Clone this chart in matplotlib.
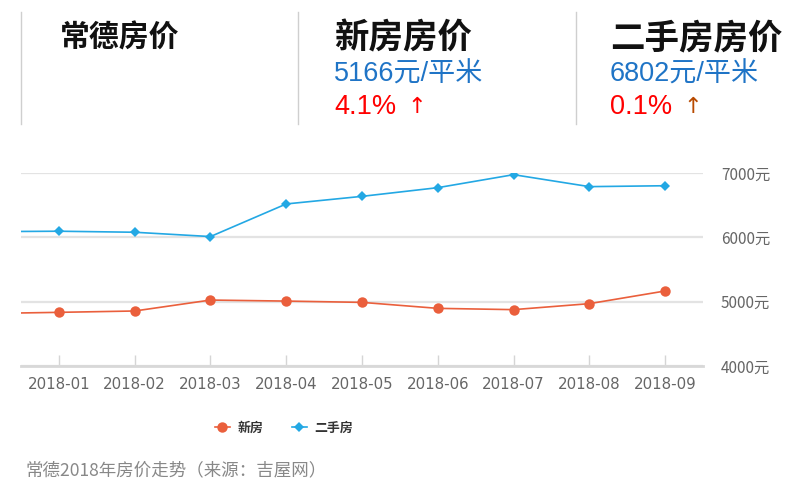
import numpy as np
import matplotlib.pyplot as plt
from matplotlib.lines import Line2D

plt.rcParams['font.family'] = ['Noto Sans CJK SC', 'DejaVu Sans']

# monthly data (first value is 2017-12, only visible as the line entering from the left)
months = ['2017-12', '2018-01', '2018-02', '2018-03', '2018-04', '2018-05',
          '2018-06', '2018-07', '2018-08', '2018-09']
new_price = [4815, 4834, 4855, 5025, 5009, 4989, 4896, 4876, 4969, 5166]
second_price = [6088, 6095, 6079, 6012, 6519, 6637, 6772, 6974, 6788, 6802]
yticks = [4000, 5000, 6000, 7000]

red = '#ea5f3c'
blue = '#23a8e4'

fig = plt.figure(figsize=(8.03, 4.94), dpi=100)

# header
for xp in [21, 298, 576]:
    fig.add_artist(Line2D([xp / 803, xp / 803], [1 - 12 / 494, 1 - 124 / 494],
                          color='#cfcfcf', lw=1))
fig.text(60 / 803, 1 - 38 / 494, '常德房价', fontsize=21.5, fontweight='bold',
         va='center', ha='left', color='#111111')
fig.text(334 / 803, 1 - 38 / 494, '新房房价', fontsize=24.8, fontweight='bold',
         va='center', ha='left', color='#111111')
fig.text(610 / 803, 1 - 38 / 494, '二手房房价', fontsize=24.8, fontweight='bold',
         va='center', ha='left', color='#111111')
num_font = ['Liberation Sans', 'Noto Sans CJK SC']
fig.text(334 / 803, 1 - 75 / 494, '5166元/平米', fontsize=19.5, family=num_font,
         va='center', ha='left', color='#1f74c6')
fig.text(610 / 803, 1 - 75 / 494, '6802元/平米', fontsize=19.5, family=num_font,
         va='center', ha='left', color='#1f74c6')
fig.text(334 / 803, 1 - 107 / 494, '4.1%', fontsize=19.5, family=num_font,
         va='center', ha='left', color='#ff0000')
fig.text(417 / 803, 1 - 107 / 494, '↑', fontsize=16, family=['DejaVu Sans'],
         va='center', ha='center', color='#ff0000')
fig.text(610 / 803, 1 - 107 / 494, '0.1%', fontsize=19.5, family=num_font,
         va='center', ha='left', color='#ff0000')
fig.text(693 / 803, 1 - 107 / 494, '↑', fontsize=16, family=['DejaVu Sans'],
         va='center', ha='center', color='#b84a00')

# chart
ax = fig.add_axes([21 / 803, 1 - 366 / 494, 682 / 803, 193 / 494])
x = np.arange(len(months)) - 1
ax.plot(x, new_price, color=red, lw=1.2, marker='o', ms=7.5,
        markeredgewidth=0, clip_on=True, label='新房', zorder=3)
ax.plot(x, second_price, color=blue, lw=1.2, marker='D', ms=5.5,
        markeredgewidth=0, clip_on=True, label='二手房', zorder=3)

ax.set_xlim(-0.5, 8.5)
ax.set_ylim(4000, 7000)
ax.set_xticks(np.arange(9))
ax.set_xticklabels(months[1:], fontsize=10.8, color='#666666',
                   family=['DejaVu Sans'])
ax.set_yticks(yticks)
ax.set_yticklabels([f'{v}元' for v in yticks], fontsize=11, color='#666666')
ax.yaxis.tick_right()
ax.tick_params(axis='y', length=0, pad=13)
ax.tick_params(axis='x', direction='in', length=8, width=1, color='#d5d5d5', pad=8)
for s in ['top', 'left', 'right']:
    ax.spines[s].set_visible(False)
ax.spines['bottom'].set_color('#d8d8d8')
ax.spines['bottom'].set_linewidth(2)
ax.grid(axis='y', color='#e3e3e3', lw=1.6)
ax.set_axisbelow(True)
ax.patch.set_alpha(0)

leg = fig.legend(loc='center', bbox_to_anchor=(284 / 803, 1 - 428 / 494), ncol=2,
                 frameon=False, handlelength=1.15, columnspacing=2.2,
                 handletextpad=0.6, prop={'weight': 'bold', 'size': 9.3})
for t in leg.get_texts():
    t.set_color('#333333')

fig.text(26 / 803, 1 - 470 / 494, '常德2018年房价走势（来源：吉屋网）', fontsize=12.6,
         color='#888888', va='center', ha='left')

fig.savefig('out.png', dpi=100)
